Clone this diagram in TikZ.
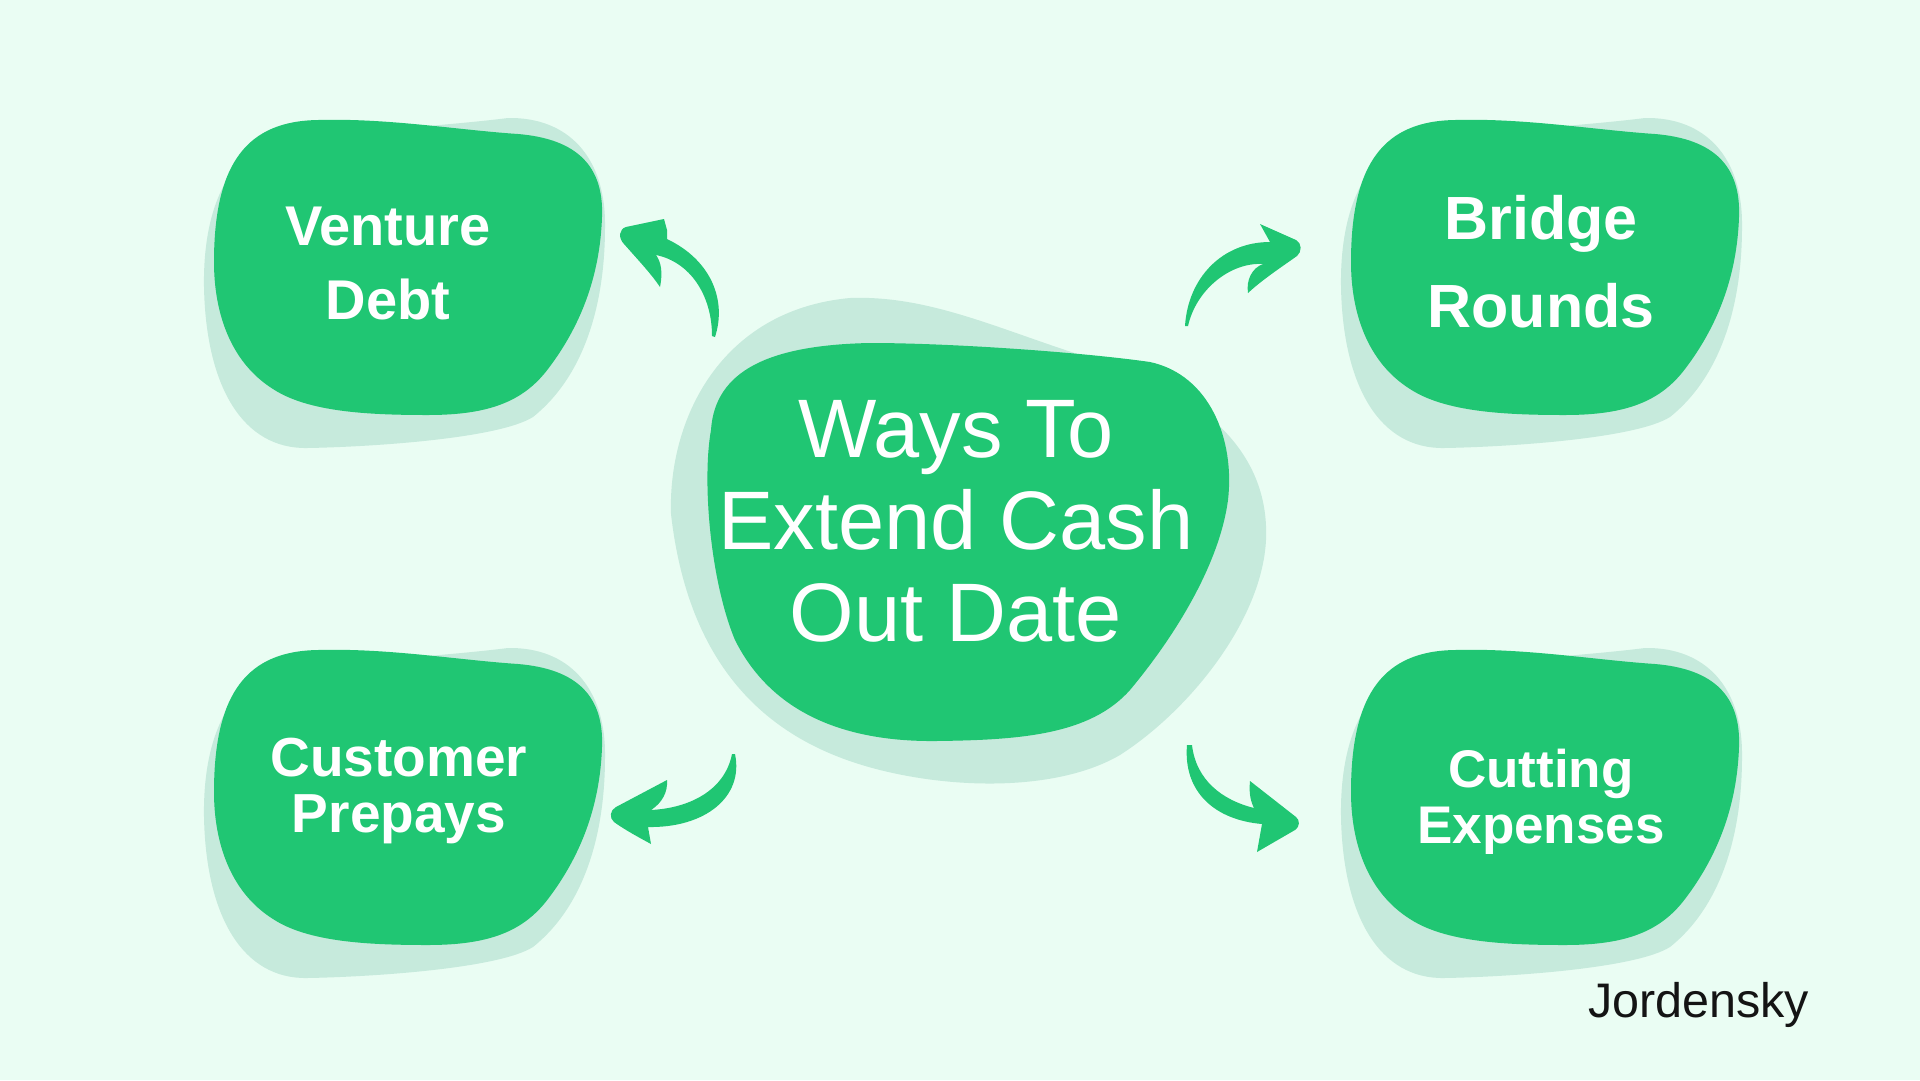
\documentclass[tikz,border=0pt]{standalone}
\usepackage{fontspec}
\setmainfont{Liberation Sans}
\definecolor{bgc}{RGB}{234,253,243}
\definecolor{greenc}{RGB}{32,198,115}
\definecolor{shadowc}{RGB}{198,234,220}
\tikzset{
  outerblob/.pic={
    \fill[shadowc] (-150,-118) .. controls (-90,-135) and (30,-140) .. (100,-149)
      .. controls (160,-150) and (198,-110) .. (197,-40)
      .. controls (197,40) and (175,110) .. (125,150)
      .. controls (90,172) and (-40,180) .. (-101,181)
      .. controls (-165,182) and (-202,120) .. (-204,20)
      .. controls (-205,-40) and (-190,-95) .. (-150,-118) -- cycle;
    \fill[greenc] (-90,-147) .. controls (-20,-149) and (50,-137) .. (110,-133)
      .. controls (170,-128) and (196,-100) .. (194,-50)
      .. controls (192,10) and (172,60) .. (140,102)
      .. controls (115,135) and (80,148) .. (20,148)
      .. controls (-40,148) and (-100,145) .. (-135,122)
      .. controls (-178,95) and (-194,45) .. (-194,-5)
      .. controls (-194,-105) and (-160,-146) .. (-90,-147) -- cycle;
  },
  lab/.style={text=white, align=center, inner sep=0pt},
  arrowshape/.style={fill=greenc},
}
\begin{document}
\begin{tikzpicture}[x=1pt,y=-1pt]
\fill[bgc] (0,0) rectangle (1920,1080);
\useasboundingbox (0,0) rectangle (1920,1080);

% centre blob
\fill[shadowc] (671,514) .. controls (668,420) and (720,310) .. (850,298)
  .. controls (930,295) and (1000,330) .. (1090,358)
  .. controls (1200,390) and (1270,450) .. (1266,540)
  .. controls (1262,620) and (1190,710) .. (1120,755)
  .. controls (1060,790) and (960,790) .. (880,770)
  .. controls (780,745) and (690,680) .. (671,514) -- cycle;
\fill[greenc] (711,430) .. controls (715,370) and (770,345) .. (870,343)
  .. controls (950,343) and (1080,352) .. (1150,362)
  .. controls (1210,375) and (1235,440) .. (1228,500)
  .. controls (1220,560) and (1180,630) .. (1130,690)
  .. controls (1090,735) and (1020,740) .. (936,741)
  .. controls (840,742) and (770,710) .. (735,640)
  .. controls (710,580) and (702,480) .. (711,430) -- cycle;
\node[lab, font=\fontsize{83}{92}\selectfont] (centre) at (956,521)
  {Ways To\\Extend Cash\\Out Date};

% outer blobs
\coordinate (vb) at (408,267);
\coordinate (bb) at (1545,267);
\coordinate (cb) at (408,797);
\coordinate (xb) at (1545,797);
\pic at (vb) {outerblob};
\pic at (bb) {outerblob};
\pic at (cb) {outerblob};
\pic at (xb) {outerblob};

\node[lab, font=\fontsize{56}{74}\selectfont\bfseries] (venture) at (388,264) {Venture\\Debt};
\node[lab, font=\fontsize{61}{88}\selectfont\bfseries] (bridge) at (1541,262) {Bridge\\Rounds};
\node[lab, font=\fontsize{55}{56}\selectfont\bfseries] (customer) at (399,791) {Customer\\Prepays};
\node[lab, font=\fontsize{53}{56}\selectfont\bfseries] (cutting) at (1541,802) {Cutting\\Expenses};

% arrows
\fill[arrowshape] (715,337) .. controls (727,300) and (711,260) .. (667,239)
  -- (667,230) -- (664,219) -- (626,227)
  .. controls (619,229) and (618,238) .. (624,244)
  .. controls (640,262) and (652,275) .. (660,287)
  .. controls (663,272) and (661,262) .. (656,255)
  .. controls (690,262) and (712,295) .. (712,336) -- cycle;

\fill[arrowshape] (1185,326) .. controls (1188,278) and (1222,242) .. (1270,242)
  -- (1260,224) -- (1296,240)
  .. controls (1302,243) and (1302,252) .. (1297,256)
  .. controls (1280,268) and (1262,280) .. (1248,293)
  .. controls (1246,280) and (1252,268) .. (1263,264)
  .. controls (1230,262) and (1196,290) .. (1188,326) -- cycle;

\fill[arrowshape] (735,754) .. controls (744,797) and (705,828) .. (648,827)
  -- (651,844)
  .. controls (640,838) and (625,830) .. (614,822)
  .. controls (609,818) and (610,810) .. (616,807)
  -- (667,780)
  .. controls (668,792) and (662,803) .. (651,810)
  .. controls (690,808) and (725,790) .. (732,754) -- cycle;

\fill[arrowshape] (1187,745) .. controls (1183,792) and (1215,820) .. (1262,824)
  -- (1257,852)
  -- (1295,830) .. controls (1300,827) and (1300,820) .. (1296,817)
  -- (1250,781)
  .. controls (1249,792) and (1250,800) .. (1254,808)
  .. controls (1222,800) and (1196,780) .. (1192,745) -- cycle;

\node[anchor=base west, inner sep=0pt, text=black!92, font=\fontsize{48.5}{56}\selectfont] (brand) at (1588,1017) {Jordensky};
\end{tikzpicture}
\end{document}
